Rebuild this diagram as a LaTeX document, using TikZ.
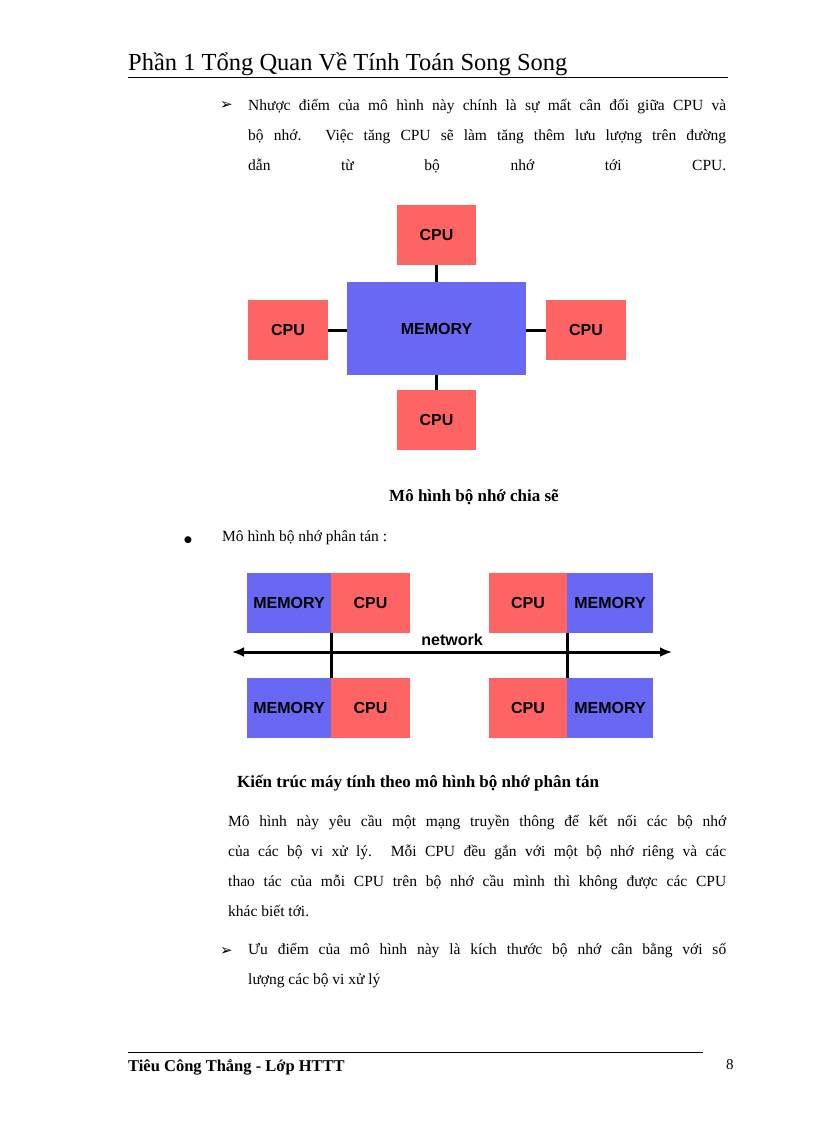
\documentclass[tikz,border=0pt]{standalone}
\usepackage{fontspec}
\setmainfont{Liberation Serif}
\newfontfamily\boxfont{Liberation Sans}
\newfontfamily\symfont{DejaVu Sans}
\usetikzlibrary{arrows.meta}
\definecolor{cpured}{HTML}{FF6464}
\definecolor{memblue}{HTML}{6868F4}
\begin{document}
\begin{tikzpicture}[x=1pt,y=-1pt,
  box/.style={draw=none,inner sep=0pt,font=\boxfont\bfseries\fontsize{16}{16}\selectfont},
  cpu/.style={box,fill=cpured},
  mem/.style={box,fill=memblue},
  txt/.style={inner sep=0pt,font=\fontsize{15.5}{30}\selectfont},
  conn/.style={line width=3pt}]
\useasboundingbox (0,0) rectangle (816,1123);
% header
\node[txt,anchor=base west,font=\fontsize{24.5}{24.5}\selectfont] (hdr) at (128,71) {Phần 1 Tổng Quan Về Tính Toán Song Song};
\draw[line width=0.8pt] (128,77) coordinate (h1) -- (728,77) coordinate (h2);
% bullet paragraph 1
\node[txt,anchor=base west] (b1) at (220,110) {\symfont\fontsize{15}{15}\selectfont ➢};
\node[txt,anchor=north west,text width=478pt,align=justify] (p1) at (248,99)
 {\parfillskip=0pt Nhược điểm của mô hình này chính là sự mất cân đối giữa CPU và\linebreak bộ nhớ. Việc tăng CPU sẽ làm tăng thêm lưu lượng trên đường\linebreak dẫn từ bộ nhớ tới CPU.\par};
% diagram 1
\node[mem,minimum width=179pt,minimum height=93pt] (M) at (436.5,328.5) {MEMORY};
\node[cpu,minimum width=79pt,minimum height=60pt] (Ct) at (436.5,235) {CPU};
\node[cpu,minimum width=80pt,minimum height=60pt] (Cl) at (288,330) {CPU};
\node[cpu,minimum width=80pt,minimum height=60pt] (Cr) at (586,330) {CPU};
\node[cpu,minimum width=79pt,minimum height=60pt] (Cb) at (436.5,420) {CPU};
\draw[conn] (Ct.south) -- (M.north);
\draw[conn] (Cb.north) -- (M.south);
\draw[conn] (Cl.east) -- (Cl.east -| M.west);
\draw[conn] (Cr.west) -- (Cr.west -| M.east);
\node[txt,anchor=base,font=\bfseries\fontsize{17}{17}\selectfont] (cap1) at (474,501) {Mô hình bộ nhớ chia sẽ};
% bullet 2
\node[txt,anchor=base west] (b2) at (184,542) {\symfont\fontsize{9}{9}\selectfont ●};
\node[txt,anchor=base west] (t2) at (222,541) {Mô hình bộ nhớ phân tán :};
% diagram 2
\node[mem,minimum width=84pt,minimum height=60pt] (m1) at (289,603) {MEMORY};
\node[cpu,minimum width=79pt,minimum height=60pt] (c1) at (370.5,603) {CPU};
\node[cpu,minimum width=78pt,minimum height=60pt] (c2) at (528,603) {CPU};
\node[mem,minimum width=86pt,minimum height=60pt] (m2) at (610,603) {MEMORY};
\node[mem,minimum width=84pt,minimum height=60pt] (m3) at (289,708) {MEMORY};
\node[cpu,minimum width=79pt,minimum height=60pt] (c3) at (370.5,708) {CPU};
\node[cpu,minimum width=78pt,minimum height=60pt] (c4) at (528,708) {CPU};
\node[mem,minimum width=86pt,minimum height=60pt] (m4) at (610,708) {MEMORY};
\coordinate (nl) at (232,652);
\coordinate (nr) at (672,652);
\draw[conn,-{Latex[length=12pt,width=10pt]}] (452,652) -- (nl);
\draw[conn,-{Latex[length=12pt,width=10pt]}] (452,652) -- (nr);
\draw[conn] (m1.south east) -- (m3.north east);
\draw[conn] (c2.south east) -- (c4.north east);
\node[box,fill=none,anchor=base] (net) at (452,645) {network};
\node[txt,anchor=base west,font=\bfseries\fontsize{17}{17}\selectfont] (cap2) at (237,787) {Kiến trúc máy tính theo mô hình bộ nhớ phân tán};
% paragraph
\node[txt,anchor=north west,text width=498pt,align=justify] (p2) at (228,815)
 {Mô hình này yêu cầu một mạng truyền thông để kết nối các bộ nhớ\linebreak của các bộ vi xử lý. Mỗi CPU đều gắn với một bộ nhớ riêng và các\linebreak thao tác của mỗi CPU trên bộ nhớ cầu mình thì không được các CPU\linebreak khác biết tới.};
\node[txt,anchor=base west] (b3) at (220,955) {\symfont\fontsize{15}{15}\selectfont ➢};
\node[txt,anchor=north west,text width=478pt,align=justify] (p3) at (248,943)
 {Ưu điểm của mô hình này là kích thước bộ nhớ cân bằng với số\linebreak lượng các bộ vi xử lý};
% footer
\draw[line width=0.8pt] (128,1052) coordinate (f1) -- (703,1052) coordinate (f2);
\node[txt,anchor=base west,font=\bfseries\fontsize{16.5}{16.5}\selectfont] (ft) at (128,1071) {Tiêu Công Thắng - Lớp HTTT};
\node[txt,anchor=base west,font=\fontsize{15}{15}\selectfont] (pg) at (726,1069) {8};
\end{tikzpicture}
\end{document}
